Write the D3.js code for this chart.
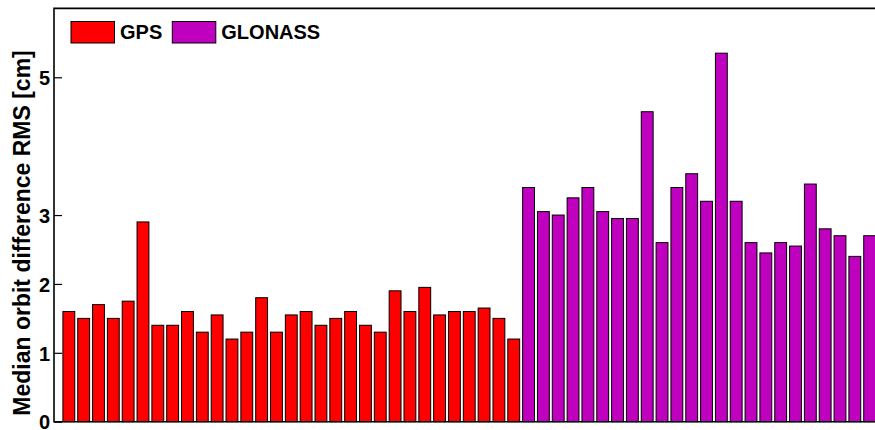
<!DOCTYPE html>
<html>
<head>
<meta charset="utf-8">
<title>Median orbit difference RMS</title>
<script src="https://d3js.org/d3.v7.min.js"></script>
<style>
    body { margin: 0; background: #fff; }
    svg text { font-family: "Liberation Sans", Arial, Helvetica, sans-serif; font-weight: bold; fill: #000; }
    .bar { stroke: #000; stroke-width: 1; }
</style>
</head>
<body>
<div id="chart"></div>
<script>
// values (cm)
var gpsValues = [1.6, 1.5, 1.7, 1.5, 1.75, 2.9, 1.4, 1.4, 1.6, 1.3, 1.55, 1.2, 1.3, 1.8, 1.3, 1.55,
                 1.6, 1.4, 1.5, 1.6, 1.4, 1.3, 1.9, 1.6, 1.95, 1.55, 1.6, 1.6, 1.65, 1.5, 1.2];
var glonassValues = [3.4, 3.05, 3.0, 3.25, 3.4, 3.05, 2.95, 2.95, 4.5, 2.6, 3.4, 3.6, 3.2, 5.35, 3.2,
                     2.6, 2.45, 2.6, 2.55, 3.45, 2.8, 2.7, 2.4, 2.7];
var seriesNames = ["GPS", "GLONASS"];
var seriesColors = ["#ff0000", "#bf00bf"];
var yTicks = [0, 1, 2, 3, 5];

var width = 875, height = 430;
var plotLeft = 54, plotTop = 8.4, plotBottom = 421.7;
var step = 14.83;   // pixels per bar slot
var barWidth = 0.8; // MATLAB default bar width (fraction of slot)

// one flat list of bars, index starts at 1
var bars = [];
gpsValues.forEach(function(v) { bars.push({ s: 0, v: v }); });
glonassValues.forEach(function(v) { bars.push({ s: 1, v: v }); });
bars.forEach(function(d, i) { d.i = i + 1; });

var nSlots = bars.length + 1;

var svg = d3.select("#chart").append("svg")
    .attr("width", width)
    .attr("height", height);

var x = d3.scaleLinear()
    .domain([0, nSlots])
    .range([plotLeft, plotLeft + nSlots * step]);

var y = d3.scaleLinear()
    .domain([0, 6])
    .range([plotBottom, plotTop]);

var color = d3.scaleOrdinal().domain([0, 1]).range(seriesColors);

// bars
svg.append("g").selectAll("rect")
    .data(bars)
    .enter().append("rect")
    .attr("class", "bar")
    .attr("x", function(d) { return x(d.i - barWidth / 2); })
    .attr("width", x(barWidth) - x(0))
    .attr("y", function(d) { return y(d.v); })
    .attr("height", function(d) { return y(0) - y(d.v); })
    .attr("fill", function(d) { return color(d.s); });

// frame: top, left, bottom
var xEnd = x(nSlots);
svg.append("path")
    .attr("d", "M" + xEnd + "," + y(6) + "H" + plotLeft + "V" + y(0) + "H" + xEnd)
    .attr("fill", "none")
    .attr("stroke", "#000")
    .attr("stroke-width", 1.6);

// y axis, ticks pointing inward
var yAxis = d3.axisLeft(y)
    .tickValues(yTicks)
    .tickSizeInner(-8)
    .tickSizeOuter(0)
    .tickPadding(12)
    .tickFormat(d3.format("d"));

var gy = svg.append("g")
    .attr("transform", "translate(" + plotLeft + ",0)")
    .call(yAxis);
gy.select(".domain").remove();
gy.selectAll("line").attr("stroke", "#000").attr("stroke-width", 1.2);
gy.selectAll("text")
    .style("font-size", "20px")
    .attr("x", -4)
    .attr("dy", "0.36em");

// y label
svg.append("text")
    .attr("transform", "translate(29.5,233) rotate(-90)")
    .attr("text-anchor", "middle")
    .style("font-size", "23px")
    .text("Median orbit difference RMS [cm]");

// legend
var legendX = [71, 172.3];
var legend = svg.append("g").selectAll("g")
    .data(seriesNames)
    .enter().append("g")
    .attr("transform", function(d, i) { return "translate(" + legendX[i] + ",21.5)"; });

legend.append("rect")
    .attr("width", 43.5)
    .attr("height", 21.5)
    .attr("fill", function(d, i) { return color(i); })
    .attr("stroke", "#000")
    .attr("stroke-width", 1);

legend.append("text")
    .attr("x", 49)
    .attr("y", 17.5)
    .style("font-size", "20px")
    .text(function(d) { return d; });
</script>
</body>
</html>
